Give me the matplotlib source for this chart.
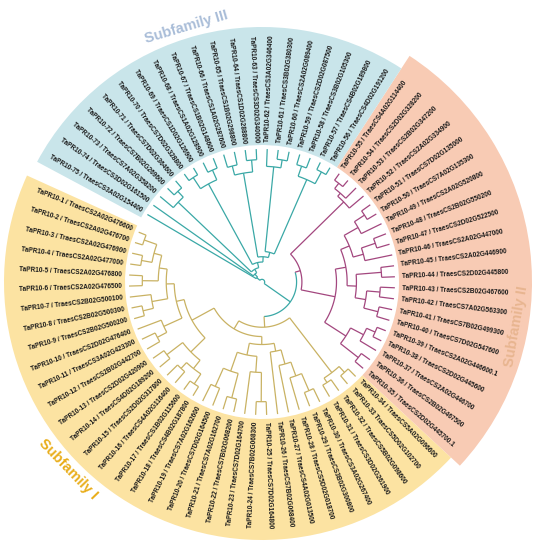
import numpy as np
import matplotlib
matplotlib.use("Agg")
import matplotlib.pyplot as plt
from matplotlib.patches import Wedge

# gene ids for TaPR10-1 .. TaPR10-75
gene_ids = [
    "TraesCS2A02G476600", "TraesCS2A02G476700", "TraesCS2A02G476900", "TraesCS2A02G477000",
    "TraesCS2A02G476800", "TraesCS2A02G476500", "TraesCS2B02G500100", "TraesCS2B02G500300",
    "TraesCS2B02G500200", "TraesCS2D02G476400", "TraesCS3A02G423300", "TraesCS2B02G442700",
    "TraesCS2D02G420900", "TraesCS4D02G189200", "TraesCS2D02G317800", "TraesCS4A02G116400",
    "TraesCS1B02G115600", "TraesCS4B02G187800", "TraesCS7A02G162600", "TraesCS7D02G164500",
    "TraesCS7A02G162700", "TraesCS7B02G068200", "TraesCS7D02G164700", "TraesCS7B02G068300",
    "TraesCS7D02G164800", "TraesCS7B02G068400", "TraesCS4A02G013500", "TraesCS5D02G018700",
    "TraesCS3B02G300800", "TraesCS3A02G267400", "TraesCS3D02G261900", "TraesCS5B02G098600",
    "TraesCS5D02G102700", "TraesCS5A02G096600",
    "TraesCS2D02G445700.1", "TraesCS2B02G467500", "TraesCS2A02G446700", "TraesCS2D02G445600",
    "TraesCS2A02G446600.1", "TraesCS7D02G547600", "TraesCS7B02G499300", "TraesCS7A02G563300",
    "TraesCS2B02G467600", "TraesCS2D02G445800", "TraesCS2A02G446900", "TraesCS2A02G447000",
    "TraesCS2D02G522500", "TraesCS2B02G550200", "TraesCS2A02G520800", "TraesCS7A02G135300",
    "TraesCS7D02G135000", "TraesCS2A02G334900", "TraesCS2B02G347200", "TraesCS2D02G328200",
    "TraesCS4A02G114400",
    "TraesCS4D02G191200", "TraesCS4B02G189800", "TraesCS3B02G105300", "TraesCS2D02G087500",
    "TraesCS2A02G089400", "TraesCS3B02G380300", "TraesCS3A02G346400", "TraesCS3D02G340000",
    "TraesCS1D02G288800", "TraesCS1B02G298800", "TraesCS1A02G287600", "TraesCS1B02G148600",
    "TraesCS1A02G128900", "TraesCS1D02G126900", "TraesCS7D02G328800", "TraesCS7D02G364600",
    "TraesCS7B02G269600", "TraesCS7A02G358200", "TraesCS3D02G161500", "TraesCS3A02G154400",
]
no_slash = [33]

subfamily_I = list(range(1, 35))
subfamily_II = list(range(35, 56))
subfamily_III = list(range(56, 76))

# tree topology, number after ")" = node depth (tips = 100)
yellow_a1 = "((((((1,2)94,(3,4)92)84,(5,6)90)78,(7,(8,9)92)84)72,(10,(11,12)89)81)66,((13,14)90,((15,16)89,(17,18)92)83)75)60"
yellow_a2 = "((((19,20)86,(21,22)90)71,(23,(24,25)90)68)56,(26,(27,(28,(29,30)89)75)64)53)47"
yellow_b = "((31,32)90,(33,34)92)86"
purple_rest = "(((35,36)92,(37,(38,39)93)86)75,((((40,41)90,(42,43)89)79,(44,45)90)71,((46,(47,48)90)79,(49,(50,51)92)83)71)64)56"
purple_top = "(52,(53,(54,55)94)89)86"
teal = ("(75,(74,(((71,72)93,73)87,(((67,68)92,(69,70)94)84,(((63,64)92,(65,66)90)83,"
        "(((60,61)93,62)87,((56,57)94,(58,59)92)84)23)19)15)11)8)5")
newick = f"({teal},(({purple_rest},{purple_top})30,(({yellow_a1},{yellow_a2})41,{yellow_b})34)26)2"

band_colors = {"I": "#fce3a2", "II": "#f8cbb4", "III": "#c9e5ea"}
branch_colors = {"I": "#c9b263", "II": "#a3477f", "III": "#3aa8a6"}
title_colors = {"I": "#e9ae1c", "II": "#e8b590", "III": "#a9bdd8"}

cx, cy = 262, 261
r_tip = 133
r_in = 137
r_lab = 140
a0, step = 158.0, 4.75


def parse(s):
    pos = 0

    def number():
        nonlocal pos
        st = pos
        while pos < len(s) and (s[pos].isdigit() or s[pos] == "."):
            pos += 1
        return float(s[st:pos])

    def node():
        nonlocal pos
        if s[pos] == "(":
            pos += 1
            kids = [node()]
            while s[pos] == ",":
                pos += 1
                kids.append(node())
            pos += 1
            return {"kids": kids, "depth": number()}
        leaf = int(number())
        return {"leaf": leaf, "depth": 100.0}

    return node()


def group_of(leaves):
    for g, members in (("I", subfamily_I), ("II", subfamily_II), ("III", subfamily_III)):
        if all(l in members for l in leaves):
            return g
    return "III"


def layout(n):
    if "leaf" in n:
        n["ang"] = a0 + (n["leaf"] - 1) * step
        n["leaves"] = [n["leaf"]]
    else:
        for k in n["kids"]:
            layout(k)
        angs = [k["ang"] for k in n["kids"]]
        n["ang"] = (min(angs) + max(angs)) / 2
        n["leaves"] = sum((k["leaves"] for k in n["kids"]), [])
    n["col"] = branch_colors[group_of(n["leaves"])]


def pol(r, a):
    t = np.deg2rad(a)
    return cx + r * np.cos(t), cy + r * np.sin(t)


def draw(ax, n):
    if "kids" not in n:
        return
    r = n["depth"] / 100 * r_tip
    angs = [k["ang"] for k in n["kids"]]
    aa = np.linspace(min(angs), max(angs), 60)
    x, y = pol(r, aa)
    ax.plot(x, y, color=n["col"], lw=0.9, solid_capstyle="butt")
    for k in n["kids"]:
        rk = k["depth"] / 100 * r_tip
        x, y = pol(np.array([r, rk]), k["ang"])
        ax.plot(x, y, color=k["col"], lw=0.9, solid_capstyle="butt")
        draw(ax, k)


fig = plt.figure(figsize=(5.5, 5.43), dpi=100)
ax = fig.add_axes([0, 0, 1, 1])
ax.set_xlim(0, 550)
ax.set_ylim(0, 543)
ax.set_aspect("equal")
ax.axis("off")

# coloured bands behind labels
for g, members, r_out in (("I", subfamily_I, 258), ("II", subfamily_II, 270), ("III", subfamily_III, 255)):
    t1 = a0 + (members[0] - 1) * step - step / 2
    t2 = a0 + (members[-1] - 1) * step + step / 2
    ax.add_patch(Wedge((cx, cy), r_out, t1 % 360, t1 % 360 + (t2 - t1), width=r_out - r_in,
                       facecolor=band_colors[g], edgecolor="none", zorder=0))

tree = parse(newick)
layout(tree)
draw(ax, tree)

# leaf labels
for i, gid in enumerate(gene_ids, start=1):
    a = (a0 + (i - 1) * step) % 360
    x, y = pol(r_lab, a)
    sep = " " if i in no_slash else " / "
    txt = f"TaPR10-{i}{sep}{gid}"
    if 90 < a < 270:
        rot, ha = a - 180, "right"
    else:
        rot, ha = (a if a <= 90 else a - 360), "left"
    ax.text(x, y, txt, rotation=rot, ha=ha, va="center", rotation_mode="anchor",
            fontsize=4.7, fontweight="bold", family="Liberation Sans", color="#1a1a1a")

# subfamily names, rotated along the circle
for name, g, r, a, rot in (("Subfamily I", "I", 270, 224, -46), ("Subfamily II", "II", 258, -10, 80),
                           ("Subfamily III", "III", 266, 106.5, 16.5)):
    x, y = pol(r, a)
    ax.text(x, y, name, rotation=rot, ha="center", va="center",
            rotation_mode="anchor", fontsize=10.5, fontweight="bold",
            family="Liberation Sans", color=title_colors[g])

fig.savefig("out.png", dpi=100)
